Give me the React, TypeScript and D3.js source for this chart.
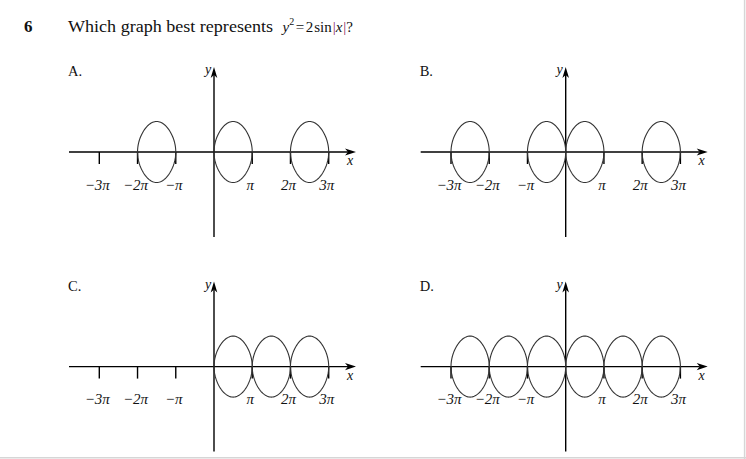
import React from 'react';
import * as d3 from 'd3';

// loop starting points, in multiples of pi (each loop spans one pi)
const LOOPS_A = [-2, 0, 2];
const LOOPS_B = [-3, -1, 0, 2];
const LOOPS_C = [0, 1, 2];
const LOOPS_D = [-3, -2, -1, 0, 1, 2];

const PANEL_LABELS = ['A.', 'B.', 'C.', 'D.'];
const TICKS = [-3, -2, -1, 1, 2, 3];
const TICK_LABELS = ['\u22123\u03c0', '\u22122\u03c0', '\u2212\u03c0', '\u03c0', '2\u03c0', '3\u03c0'];

const SERIF = '"Liberation Serif", "Times New Roman", serif';
const PI = Math.PI;

const xScale = d3.scaleLinear().domain([-3 * PI, 3 * PI]).range([-114.7, 114.7]);
const yScale = d3.scaleLinear().domain([-Math.SQRT2, Math.SQRT2]).range([30.5, -30.5]);

// y^2 = 2 sin(x) over one hump, drawn as a closed loop
const loopPath = (start: number) => {
  const a = start * PI;
  const n = 60;
  const top: [number, number][] = [];
  for (let i = 0; i <= n; i++) {
    const t = (i / n) * PI;
    const x = a + (PI * (1 - Math.cos(t))) / 2;
    const s = Math.abs(Math.sin(x - a));
    top.push([x, Math.sqrt(2 * s)]);
  }
  const bottom = top.slice().reverse().map(([x, y]) => [x, -y] as [number, number]);
  const line = d3.line<[number, number]>().x(d => xScale(d[0])).y(d => yScale(d[1]));
  return line([...top, ...bottom]) + 'Z';
};

const Panel = ({ ox, oy, label, loops }: { ox: number; oy: number; label: string; loops: number[] }) => {
  const xEnd = 142;
  const yTop = -85;
  return (
    <g transform={`translate(${ox},${oy})`}>
      <text x={-146} y={-76} fontFamily={SERIF} fontSize={14.5} fill="#111">{label}</text>
      {/* x axis */}
      <line x1={-145} x2={xEnd - 8} y1={0} y2={0} stroke="#000" strokeWidth={1.4} />
      <path d={`M${xEnd},0 L${xEnd - 11},-3.6 L${xEnd - 8},0 L${xEnd - 11},3.6 Z`} fill="#000" />
      <text x={xEnd - 6} y={13} fontFamily={SERIF} fontStyle="italic" fontSize={14} textAnchor="middle" fill="#111">x</text>
      {/* y axis */}
      <line x1={0} x2={0} y1={85} y2={yTop + 8} stroke="#000" strokeWidth={1.4} />
      <path d={`M0,${yTop} L-3.3,${yTop + 11} L0,${yTop + 8} L3.3,${yTop + 11} Z`} fill="#000" />
      <text x={-6} y={-78} fontFamily={SERIF} fontStyle="italic" fontSize={14} textAnchor="middle" fill="#111">y</text>
      {/* ticks */}
      {TICKS.map((t, i) => (
        <g key={t}>
          <line x1={xScale(t * PI)} x2={xScale(t * PI)} y1={0} y2={12} stroke="#000" strokeWidth={1.4} />
          <text x={xScale(t * PI) - 2} y={37.5} fontFamily={SERIF} fontStyle="italic" fontSize={15}
            textAnchor="middle" fill="#111">{TICK_LABELS[i]}</text>
        </g>
      ))}
      {/* loops */}
      {loops.map(s => (
        <path key={s} d={loopPath(s)} fill="none" stroke="#333" strokeWidth={1.1} />
      ))}
    </g>
  );
};

export default function App() {
  const panels = [
    { ox: 214, oy: 152, loops: LOOPS_A },
    { ox: 565.7, oy: 152, loops: LOOPS_B },
    { ox: 214, oy: 366.6, loops: LOOPS_C },
    { ox: 565.7, oy: 366.6, loops: LOOPS_D },
  ];
  const bar = '#8a2a5c';
  return (
    <svg width={746} height={459} style={{ position: 'absolute', left: 0, top: 0, background: '#fff' }}>
      <rect width={746} height={459} fill="#fff" />
      <text x={24} y={31.5} fontFamily={SERIF} fontWeight="bold" fontSize={17} fill="#111">6</text>
      <text x={68} y={31.5} fontFamily={SERIF} fontSize={17.5} fill="#111"
        textLength={205} lengthAdjust="spacingAndGlyphs">Which graph best represents</text>
      <text x={282.5} y={31.5} fontFamily={SERIF} fontSize={15} fill="#111">
        <tspan fontStyle="italic">y</tspan>
        <tspan fontSize={10} dy={-7}>2</tspan>
        <tspan dy={7} dx={1.5}>=</tspan>
        <tspan dx={1.5}>2</tspan>
        <tspan dx={1}>sin</tspan>
        <tspan dx={1} fill={bar}>|</tspan>
        <tspan fontStyle="italic">x</tspan>
        <tspan dx={1} fill={bar}>|</tspan>
        <tspan>?</tspan>
      </text>
      {panels.map((p, i) => (
        <Panel key={i} ox={p.ox} oy={p.oy} label={PANEL_LABELS[i]} loops={p.loops} />
      ))}
      <line x1={0} x2={746} y1={457.8} y2={457.8} stroke="#d6d6d6" strokeWidth={1.5} />
      <line x1={744.6} x2={744.6} y1={0} y2={459} stroke="#d6d6d6" strokeWidth={1.5} />
    </svg>
  );
}
